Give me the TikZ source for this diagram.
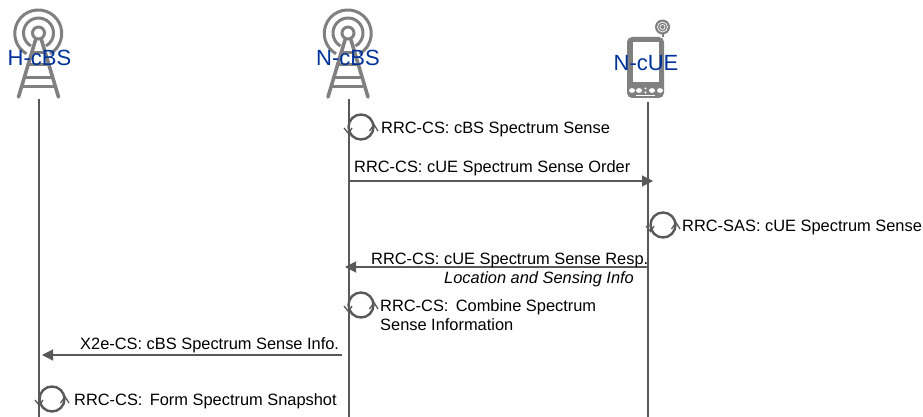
\documentclass[tikz,border=0pt]{standalone}
\usepackage{fontspec}
\setmainfont{Liberation Sans}
\usetikzlibrary{arrows.meta}
\definecolor{lifec}{HTML}{595959}
\definecolor{iconc}{HTML}{808080}
\definecolor{labelc}{HTML}{003399}
\tikzset{
  x=1pt,y=-1pt,
  lifeline/.style={draw=lifec,line width=1.9pt},
  msg/.style={draw=lifec,line width=1.1pt,-{Triangle[length=11pt,width=11pt,fill=lifec]}},
  loopring/.style={circle,draw=lifec,line width=2.4pt,minimum size=25pt,inner sep=0pt},
  chev/.style={draw=lifec,line width=1.3pt},
  txt/.style={anchor=base west,inner sep=0pt,font=\fontsize{16.4pt}{19pt}\selectfont,text=black},
  head/.style={anchor=base,inner sep=0pt,font=\fontsize{22pt}{25pt}\selectfont,text=labelc},
  ring/.style={draw=iconc,line width=3pt},
  pics/tower/.style={code={
    \draw[ring] (-12,46.8) arc[start angle=120,end angle=420,radius=23.5];
    \draw[ring] (-7.5,39) arc[start angle=120,end angle=420,radius=15];
    \draw[ring] (0,26) circle[radius=6];
    \draw[draw=iconc,line width=3.6pt,line cap=round] (-3,33) -- (-20,90) (3,33) -- (20,90);
    \draw[draw=iconc,line width=3pt] (-7,46) -- (7,46) (-10,58) -- (9,58) (-13,71) -- (13,71) (-16,80) -- (15,80);
  }}
}
\begin{document}
\begin{tikzpicture}
\useasboundingbox (0,0) rectangle (923,417);

% icons
\pic at (38.5,7) {tower};
\pic at (348,7) {tower};
% phone
\fill[iconc,rounded corners=5pt] (627,37) rectangle (664,98);
\fill[white] (633,42) rectangle (659,82);
\draw[iconc,line width=2pt] (662.5,37) -- (662.5,27);
\fill[iconc] (662.5,27) circle[radius=7.5];
\draw[white,line width=.7pt] (662.5,27) circle[radius=5] (662.5,27) circle[radius=2.5];
\foreach \px in {632,639,652,660} \fill[white] (\px,90.5) ellipse[x radius=3,y radius=2.4];
\fill[white] (645.5,88.5) circle[radius=1.2] (645.5,92.5) circle[radius=1.2];
\draw[white,line width=1pt] (636,96) -- (655,96);

% headings
\node[head] (hcbsL) at (39.5,66) {H-cBS};
\node[head] (ncbsL) at (348,66) {N-cBS};
\node[head] (ncueL) at (646,71) {N-cUE};

% lifelines
\coordinate (hTop) at (39,99);
\coordinate (hBot) at (39,417);
\coordinate (nTop) at (349,99);
\coordinate (nBot) at (349,417);
\coordinate (uTop) at (648,102);
\coordinate (uBot) at (648,417);
\draw[lifeline] (hTop) -- (hBot);
\draw[lifeline] (nTop) -- (nBot);
\draw[lifeline] (uTop) -- (uBot);

% message end points
\coordinate (m1a) at (349,181);
\coordinate (m1b) at (653,181);
\coordinate (m2a) at (648,267);
\coordinate (m2b) at (345,267);
\coordinate (m3a) at (342,355);
\coordinate (m3b) at (42,355);
\draw[msg] (m1a) -- (m1b);
\draw[msg] (m2a) -- (m2b);
\draw[msg] (m3a) -- (m3b);

% self loops
\foreach \nm/\cx/\cy in {la/361/127,lb/663/225,lc/361/305,ld/52/399}{
  \node[loopring] (\nm) at (\cx,\cy) {};
  \draw[chev] ([shift={(-17,1)}]\nm.center) -- ([shift={(-12.5,6.5)}]\nm.center) -- ([shift={(-9,1)}]\nm.center);
  \draw[chev] ([shift={(8.5,4)}]\nm.center) -- ([shift={(13,-2.5)}]\nm.center) -- ([shift={(17,4)}]\nm.center);
}

% labels
\node[txt] (t1) at (381,134) {RRC-CS: cBS Spectrum Sense};
\node[txt] (t2) at (354,172) {RRC-CS: cUE Spectrum Sense Order};
\node[txt] (t3) at (682,231) {RRC-SAS: cUE Spectrum Sense};
\node[txt] (t4) at (371,264) {RRC-CS: cUE Spectrum Sense Resp.};
\node[txt,font=\fontsize{16.4pt}{19pt}\selectfont\itshape] (t5) at (444,283) {Location and Sensing Info};
\node[txt] (t6) at (380,311) {RRC-CS:\, Combine Spectrum};
\node[txt] (t7) at (380,330) {Sense Information};
\node[txt] (t8) at (80,349) {X2e-CS: cBS Spectrum Sense Info.};
\node[txt] (t9) at (74,405) {RRC-CS:\, Form Spectrum Snapshot};
\end{tikzpicture}
\end{document}
